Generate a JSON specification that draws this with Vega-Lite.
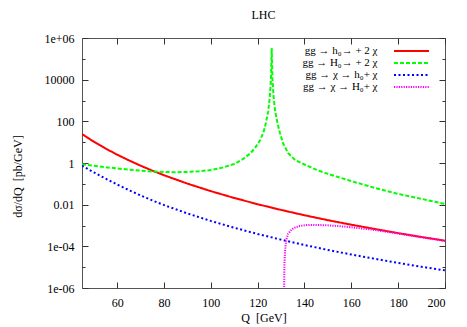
{
  "$schema": "https://vega.github.io/schema/vega-lite/v6.json",
  "width": 363,
  "height": 250,
  "autosize": {"type": "none"},
  "padding": {"left": 82, "top": 38, "right": 22, "bottom": 39},
  "background": "white",
  "title": {"text": "LHC", "font": "Liberation Serif", "fontSize": 12, "fontWeight": "normal", "offset": 10, "color": "black"},
  "config": {
    "view": {"stroke": "#555", "strokeWidth": 1},
    "font": "Liberation Serif",
    "axis": {
      "grid": false, "domain": false,
      "labelFont": "Liberation Serif", "labelFontSize": 12, "labelColor": "black",
      "titleFont": "Liberation Serif", "titleFontSize": 12, "titleFontWeight": "normal", "titleColor": "black",
      "tickColor": "#333", "tickWidth": 1
    },
    "legend": {
      "labelFont": "Liberation Serif", "labelFontSize": 11, "labelColor": "black", "labelLimit": 300
    }
  },
  "data": {"values": [
    {"s": "gg → h₀→ + 2 χ", "Q": 45, "v": 24.5},
    {"s": "gg → h₀→ + 2 χ", "Q": 50, "v": 10.6},
    {"s": "gg → h₀→ + 2 χ", "Q": 55, "v": 5.0},
    {"s": "gg → h₀→ + 2 χ", "Q": 60, "v": 2.52},
    {"s": "gg → h₀→ + 2 χ", "Q": 65, "v": 1.34},
    {"s": "gg → h₀→ + 2 χ", "Q": 70, "v": 0.745},
    {"s": "gg → h₀→ + 2 χ", "Q": 75, "v": 0.431},
    {"s": "gg → h₀→ + 2 χ", "Q": 80, "v": 0.259},
    {"s": "gg → h₀→ + 2 χ", "Q": 90, "v": 0.1026},
    {"s": "gg → h₀→ + 2 χ", "Q": 100, "v": 0.0446},
    {"s": "gg → h₀→ + 2 χ", "Q": 110, "v": 0.021},
    {"s": "gg → h₀→ + 2 χ", "Q": 120, "v": 0.0105},
    {"s": "gg → h₀→ + 2 χ", "Q": 130, "v": 0.0056},
    {"s": "gg → h₀→ + 2 χ", "Q": 140, "v": 0.0031},
    {"s": "gg → h₀→ + 2 χ", "Q": 150, "v": 0.0018},
    {"s": "gg → h₀→ + 2 χ", "Q": 160, "v": 0.00109},
    {"s": "gg → h₀→ + 2 χ", "Q": 170, "v": 0.00068},
    {"s": "gg → h₀→ + 2 χ", "Q": 180, "v": 0.00043},
    {"s": "gg → h₀→ + 2 χ", "Q": 190, "v": 0.00028},
    {"s": "gg → h₀→ + 2 χ", "Q": 200, "v": 0.000187},

    {"s": "gg → H₀→ + 2 χ", "Q": 45, "v": 0.88},
    {"s": "gg → H₀→ + 2 χ", "Q": 50, "v": 0.74},
    {"s": "gg → H₀→ + 2 χ", "Q": 55, "v": 0.63},
    {"s": "gg → H₀→ + 2 χ", "Q": 60, "v": 0.55},
    {"s": "gg → H₀→ + 2 χ", "Q": 65, "v": 0.48},
    {"s": "gg → H₀→ + 2 χ", "Q": 70, "v": 0.43},
    {"s": "gg → H₀→ + 2 χ", "Q": 75, "v": 0.39},
    {"s": "gg → H₀→ + 2 χ", "Q": 80, "v": 0.37},
    {"s": "gg → H₀→ + 2 χ", "Q": 85, "v": 0.36},
    {"s": "gg → H₀→ + 2 χ", "Q": 90, "v": 0.37},
    {"s": "gg → H₀→ + 2 χ", "Q": 95, "v": 0.40},
    {"s": "gg → H₀→ + 2 χ", "Q": 100, "v": 0.46},
    {"s": "gg → H₀→ + 2 χ", "Q": 105, "v": 0.6},
    {"s": "gg → H₀→ + 2 χ", "Q": 110, "v": 0.9},
    {"s": "gg → H₀→ + 2 χ", "Q": 114, "v": 1.6},
    {"s": "gg → H₀→ + 2 χ", "Q": 117, "v": 3},
    {"s": "gg → H₀→ + 2 χ", "Q": 119, "v": 5.5},
    {"s": "gg → H₀→ + 2 χ", "Q": 121, "v": 12},
    {"s": "gg → H₀→ + 2 χ", "Q": 122.5, "v": 30},
    {"s": "gg → H₀→ + 2 χ", "Q": 123.5, "v": 80},
    {"s": "gg → H₀→ + 2 χ", "Q": 124.5, "v": 300},
    {"s": "gg → H₀→ + 2 χ", "Q": 125.2, "v": 1500},
    {"s": "gg → H₀→ + 2 χ", "Q": 125.7, "v": 12000},
    {"s": "gg → H₀→ + 2 χ", "Q": 126, "v": 330000},
    {"s": "gg → H₀→ + 2 χ", "Q": 126.3, "v": 12000},
    {"s": "gg → H₀→ + 2 χ", "Q": 126.8, "v": 1500},
    {"s": "gg → H₀→ + 2 χ", "Q": 127.5, "v": 300},
    {"s": "gg → H₀→ + 2 χ", "Q": 128.5, "v": 80},
    {"s": "gg → H₀→ + 2 χ", "Q": 129.5, "v": 28},
    {"s": "gg → H₀→ + 2 χ", "Q": 131, "v": 8},
    {"s": "gg → H₀→ + 2 χ", "Q": 133, "v": 3},
    {"s": "gg → H₀→ + 2 χ", "Q": 136, "v": 1.4},
    {"s": "gg → H₀→ + 2 χ", "Q": 140, "v": 0.85},
    {"s": "gg → H₀→ + 2 χ", "Q": 145, "v": 0.48},
    {"s": "gg → H₀→ + 2 χ", "Q": 150, "v": 0.3},
    {"s": "gg → H₀→ + 2 χ", "Q": 160, "v": 0.135},
    {"s": "gg → H₀→ + 2 χ", "Q": 170, "v": 0.064},
    {"s": "gg → H₀→ + 2 χ", "Q": 180, "v": 0.033},
    {"s": "gg → H₀→ + 2 χ", "Q": 190, "v": 0.019},
    {"s": "gg → H₀→ + 2 χ", "Q": 200, "v": 0.0108},

    {"s": "gg → χ → h₀+ χ", "Q": 45, "v": 0.75},
    {"s": "gg → χ → h₀+ χ", "Q": 50, "v": 0.36},
    {"s": "gg → χ → h₀+ χ", "Q": 55, "v": 0.18},
    {"s": "gg → χ → h₀+ χ", "Q": 60, "v": 0.093},
    {"s": "gg → χ → h₀+ χ", "Q": 65, "v": 0.05},
    {"s": "gg → χ → h₀+ χ", "Q": 70, "v": 0.0277},
    {"s": "gg → χ → h₀+ χ", "Q": 75, "v": 0.016},
    {"s": "gg → χ → h₀+ χ", "Q": 80, "v": 0.0096},
    {"s": "gg → χ → h₀+ χ", "Q": 90, "v": 0.0038},
    {"s": "gg → χ → h₀+ χ", "Q": 100, "v": 0.00166},
    {"s": "gg → χ → h₀+ χ", "Q": 110, "v": 0.00078},
    {"s": "gg → χ → h₀+ χ", "Q": 120, "v": 0.00039},
    {"s": "gg → χ → h₀+ χ", "Q": 130, "v": 0.00021},
    {"s": "gg → χ → h₀+ χ", "Q": 140, "v": 0.000116},
    {"s": "gg → χ → h₀+ χ", "Q": 150, "v": 0.000067},
    {"s": "gg → χ → h₀+ χ", "Q": 160, "v": 0.0000405},
    {"s": "gg → χ → h₀+ χ", "Q": 170, "v": 0.0000253},
    {"s": "gg → χ → h₀+ χ", "Q": 180, "v": 0.000016},
    {"s": "gg → χ → h₀+ χ", "Q": 190, "v": 0.0000104},
    {"s": "gg → χ → h₀+ χ", "Q": 200, "v": 0.000007},

    {"s": "gg → χ → H₀+ χ", "Q": 131.3, "v": 0.0000005},
    {"s": "gg → χ → H₀+ χ", "Q": 131.4, "v": 0.00001},
    {"s": "gg → χ → H₀+ χ", "Q": 131.7, "v": 0.00006},
    {"s": "gg → χ → H₀+ χ", "Q": 132.2, "v": 0.0002},
    {"s": "gg → χ → H₀+ χ", "Q": 133, "v": 0.0004},
    {"s": "gg → χ → H₀+ χ", "Q": 134.5, "v": 0.00065},
    {"s": "gg → χ → H₀+ χ", "Q": 136, "v": 0.0008},
    {"s": "gg → χ → H₀+ χ", "Q": 138, "v": 0.00095},
    {"s": "gg → χ → H₀+ χ", "Q": 141, "v": 0.00105},
    {"s": "gg → χ → H₀+ χ", "Q": 145, "v": 0.00107},
    {"s": "gg → χ → H₀+ χ", "Q": 150, "v": 0.00102},
    {"s": "gg → χ → H₀+ χ", "Q": 155, "v": 0.00093},
    {"s": "gg → χ → H₀+ χ", "Q": 160, "v": 0.00082},
    {"s": "gg → χ → H₀+ χ", "Q": 170, "v": 0.00061},
    {"s": "gg → χ → H₀+ χ", "Q": 180, "v": 0.00041},
    {"s": "gg → χ → H₀+ χ", "Q": 190, "v": 0.00027},
    {"s": "gg → χ → H₀+ χ", "Q": 200, "v": 0.00018}
  ]},
  "layer": [
    {
      "mark": {"type": "line", "strokeWidth": 2, "clip": true},
      "encoding": {
        "x": {"field": "Q", "type": "quantitative",
          "scale": {"domain": [45, 200], "nice": false, "zero": false},
          "axis": {"values": [60, 80, 100, 120, 140, 160, 180, 200], "format": "d", "tickSize": -6, "labelPadding": 15, "title": "Q\u00a0 [GeV]", "titlePadding": 4}},
        "y": {"field": "v", "type": "quantitative",
          "scale": {"type": "log", "domain": [0.000001, 1000000], "nice": false},
          "axis": {"values": [0.000001, 0.00001, 0.0001, 0.001, 0.01, 0.1, 1, 10, 100, 1000, 10000, 100000, 1000000],
            "labelExpr": "datum.value==1000000?'1e+06':datum.value==10000?'10000':datum.value==100?'100':datum.value==1?'1':datum.value==0.01?'0.01':datum.value==0.0001?'1e-04':datum.value==0.000001?'1e-06':''",
            "tickSize": {"condition": {"test": "round(log(datum.value)/LN10) % 2 != 0", "value": -3}, "value": -6},
            "labelPadding": 14,
            "title": "dσ/dQ\u00a0 [pb/GeV]", "titleX": -58, "titleY": 138}},
        "color": {"field": "s", "type": "nominal",
          "scale": {"domain": ["gg → h₀→ + 2 χ", "gg → H₀→ + 2 χ", "gg → χ → h₀+ χ", "gg → χ → H₀+ χ"], "range": ["#ff0000", "#00ff00", "#0000ff", "#ff00ff"]},
          "legend": {"orient": "none", "legendX": 305, "legendY": 7, "title": null, "symbolType": "M-3.5,0L3.5,0", "symbolSize": 100, "symbolStrokeWidth": 2, "rowPadding": 1, "labelAlign": "right", "labelOffset": -40, "symbolOffset": 18.5}},
        "strokeDash": {"field": "s", "type": "nominal",
          "scale": {"domain": ["gg → h₀→ + 2 χ", "gg → H₀→ + 2 χ", "gg → χ → h₀+ χ", "gg → χ → H₀+ χ"], "range": [[1, 0], [4, 2], [2, 2.5], [1.2, 1.2]]},
          "legend": {"orient": "none", "legendX": 305, "legendY": 7, "title": null, "symbolType": "M-3.5,0L3.5,0", "symbolSize": 100, "symbolStrokeWidth": 2, "rowPadding": 1, "labelAlign": "right", "labelOffset": -40, "symbolOffset": 18.5}}
      }
    },
    {
      "mark": {"type": "line", "opacity": 0},
      "encoding": {
        "x": {"field": "Q", "type": "quantitative",
          "scale": {"domain": [45, 200], "nice": false, "zero": false},
          "axis": {"orient": "top", "values": [60, 80, 100, 120, 140, 160, 180, 200], "labels": false, "tickSize": -6, "title": null}},
        "y": {"field": "v", "type": "quantitative",
          "scale": {"type": "log", "domain": [0.000001, 1000000], "nice": false},
          "axis": {"orient": "right", "values": [0.000001, 0.00001, 0.0001, 0.001, 0.01, 0.1, 1, 10, 100, 1000, 10000, 100000, 1000000], "labels": false,
            "tickSize": {"condition": {"test": "round(log(datum.value)/LN10) % 2 != 0", "value": -3}, "value": -6},
            "title": null}},
        "detail": {"field": "s", "type": "nominal"}
      }
    }
  ],
  "resolve": {"axis": {"x": "independent", "y": "independent"}}
}
